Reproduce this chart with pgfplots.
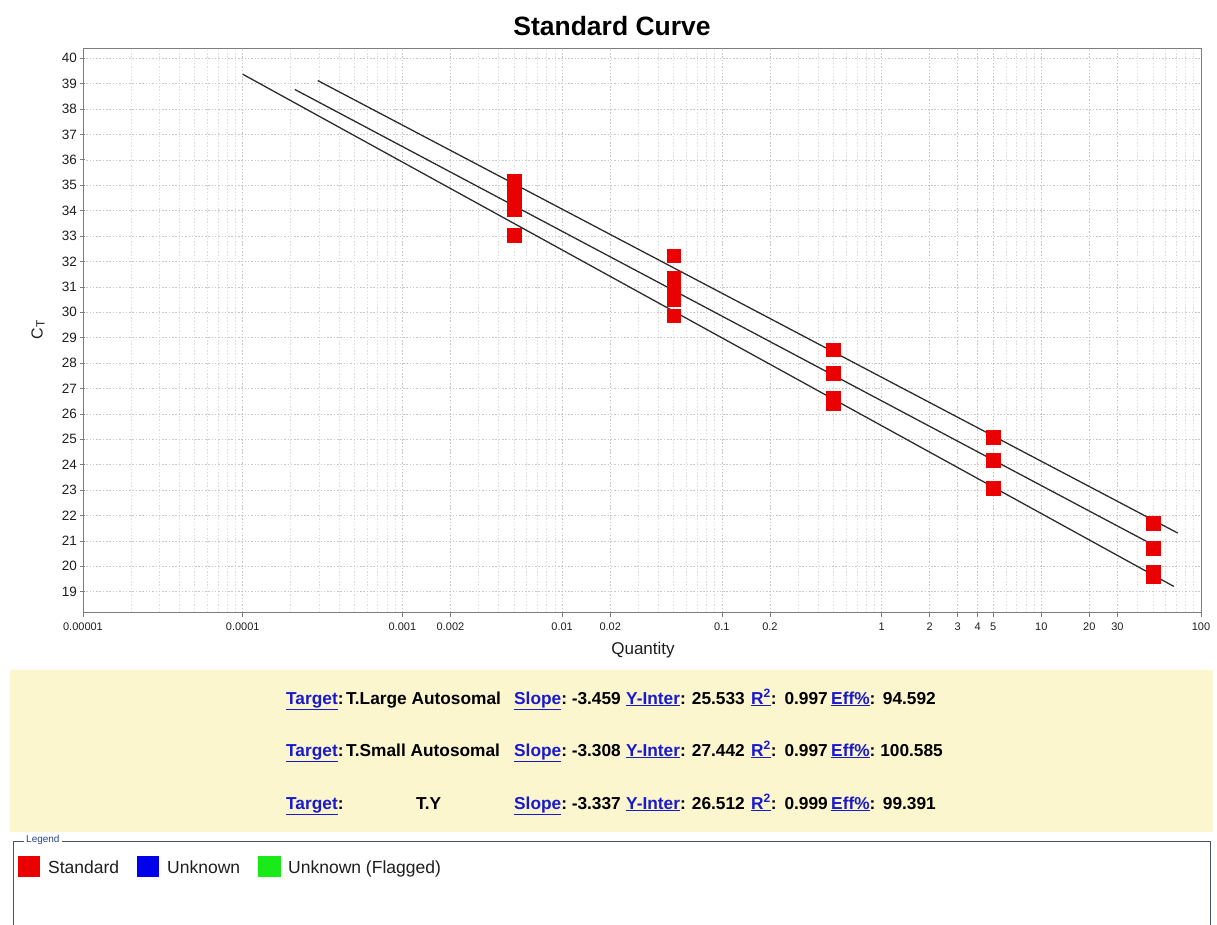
\documentclass[border=0pt]{standalone}
\usepackage{pgfplots}
\pgfplotsset{compat=1.18}
\usepackage{fontspec}
\setmainfont{Liberation Sans}

\definecolor{ptred}{RGB}{235,0,0}
\definecolor{ptblue}{RGB}{0,0,235}
\definecolor{ptgreen}{RGB}{25,235,25}
\definecolor{fitline}{RGB}{45,45,45}
\definecolor{panel}{RGB}{251,246,206}
\definecolor{linkblue}{RGB}{25,25,205}
\definecolor{gridgray}{RGB}{200,200,200}
\definecolor{gridlight}{RGB}{222,222,222}
\definecolor{axisgray}{RGB}{125,125,125}
\definecolor{legendframe}{RGB}{70,85,100}
\definecolor{legendtitle}{RGB}{40,70,130}
\definecolor{labeltext}{RGB}{30,30,30}

\newcommand{\fs}[1]{\fontsize{#1}{#1}\selectfont}
\newcommand{\lnk}[1]{\textcolor{linkblue}{\underline{#1}}}

% one summary row of the fit panel:
% baseline, target name, name x, slope, intercept, R2, efficiency, efficiency right edge
\newcommand{\statrow}[8]{%
  \begin{scope}[every node/.style={anchor=base west, inner sep=0pt, font=\fs{17.3}\bfseries}]
  \node at (286,#1) {\lnk{Target}:};
  \node at (#3,#1) {#2};
  \node at (514,#1) {\lnk{Slope}:};
  \node[anchor=base east] at (621,#1) {#4};
  \node at (626,#1) {\lnk{Y-Inter}:};
  \node[anchor=base east] at (745,#1) {#5};
  \node at (751,#1) {\lnk{R\textsuperscript{2}}:};
  \node[anchor=base east] at (828,#1) {#6};
  \node at (831,#1) {\lnk{Eff\%}:};
  \node[anchor=base east] at (#8,#1) {#7};
  \end{scope}
}

\begin{document}
\begin{tikzpicture}[x=1pt,y=1pt]
\path[use as bounding box, fill=white] (0,0) rectangle (1217,924);

\begin{axis}[
  at={(83pt,311.7pt)}, anchor=south west,
  width=1118pt, height=564pt, scale only axis,
  xmode=log, xmin=1e-5, xmax=100,
  ymin=18.19, ymax=40.39,
  xtick={1e-5,1e-4,1e-3,2e-3,1e-2,2e-2,0.1,0.2,1,2,3,4,5,10,20,30,100},
  xticklabels={0.00001,0.0001,0.001,0.002,0.01,0.02,0.1,0.2,1,2,3,4,5,10,20,30,100},
  minor xtick={2e-5,3e-5,4e-5,5e-5,6e-5,7e-5,8e-5,9e-5,
               2e-4,3e-4,4e-4,5e-4,6e-4,7e-4,8e-4,9e-4,
               3e-3,4e-3,5e-3,6e-3,7e-3,8e-3,9e-3,
               3e-2,4e-2,5e-2,6e-2,7e-2,8e-2,9e-2,
               0.3,0.4,0.5,0.6,0.7,0.8,0.9,
               6,7,8,9,40,50,60,70,80,90},
  ytick={19,20,...,40},
  xtick pos=bottom, ytick pos=left,
  xtick align=outside, ytick align=center,
  major tick length=5pt, minor tick length=0pt,
  tick style={axisgray, line width=0.7pt},
  axis line style={axisgray, line width=0.9pt},
  xmajorgrids, xminorgrids, ymajorgrids,
  major grid style={gridgray, line width=0.6pt, dash pattern=on 1.5pt off 1.8pt},
  minor grid style={gridlight, line width=0.6pt, dash pattern=on 1.5pt off 1.8pt},
  /pgf/number format/assume math mode=true,
  xticklabel style={font=\fs{11}, text=labeltext, yshift=-2pt},
  yticklabel style={font=\fs{13.5}, text=labeltext},
  clip=true,
]
% fitted standard curves (T.Small Autosomal, T.Y, T.Large Autosomal)
\addplot[fitline, line width=1.3pt] coordinates {(2.95e-4,39.12) (71.5,21.31)};
\addplot[fitline, line width=1.3pt] coordinates {(2.12e-4,38.77) (52,20.79)};
\addplot[fitline, line width=1.3pt] coordinates {(1e-4,39.37) (67.5,19.21)};
% standard wells
\addplot[ptred, only marks, mark=square*, mark size=6.8pt, line width=0.4pt,
         mark options={draw=ptred, fill=ptred}] coordinates {
  (0.005,35.17) (0.005,34.80) (0.005,34.40) (0.005,34.03) (0.005,33.04)
  (0.05,32.22) (0.05,31.36) (0.05,30.95) (0.05,30.52) (0.05,29.86)
  (0.5,28.52) (0.5,27.61) (0.5,26.62) (0.5,26.43)
  (5,25.08) (5,24.17) (5,23.07)
  (50,21.70) (50,20.72) (50,19.78) (50,19.62)
};
\end{axis}

% titles
\node[font=\fs{26.5}\bfseries] at (612,898) {Standard Curve};
\node[font=\fs{17}, text=labeltext] at (643,274) {Quantity};
\node[rotate=90, font=\fs{16}, text=labeltext] at (38,594) {C\raisebox{-2pt}{\fs{12}T}};

% fit summary panel
\fill[panel] (10,92) rectangle (1213,254);
\statrow{220}{T.Large Autosomal}{346}{-3.459}{25.533}{0.997}{94.592}{936}
\statrow{168}{T.Small Autosomal}{346}{-3.308}{27.442}{0.997}{100.585}{943}
\statrow{115}{T.Y}{416}{-3.337}{26.512}{0.999}{99.391}{936}

% well type legend
\draw[legendframe, line width=1pt] (13,-2) -- (13,83) -- (1210,83) -- (1210,-2);
\node[fill=white, inner sep=2pt, anchor=west, font=\fs{10}, text=legendtitle] at (24,84) {Legend};
\fill[ptred] (18,47) rectangle (40,68);
\node[anchor=base west, inner sep=0pt, font=\fs{17.5}, text=labeltext] at (48,51) {Standard};
\fill[ptblue] (137,47) rectangle (159,68);
\node[anchor=base west, inner sep=0pt, font=\fs{17.5}, text=labeltext] at (167,51) {Unknown};
\fill[ptgreen] (258,47) rectangle (281,68);
\node[anchor=base west, inner sep=0pt, font=\fs{17.5}, text=labeltext] at (288,51) {Unknown (Flagged)};
\end{tikzpicture}
\end{document}
